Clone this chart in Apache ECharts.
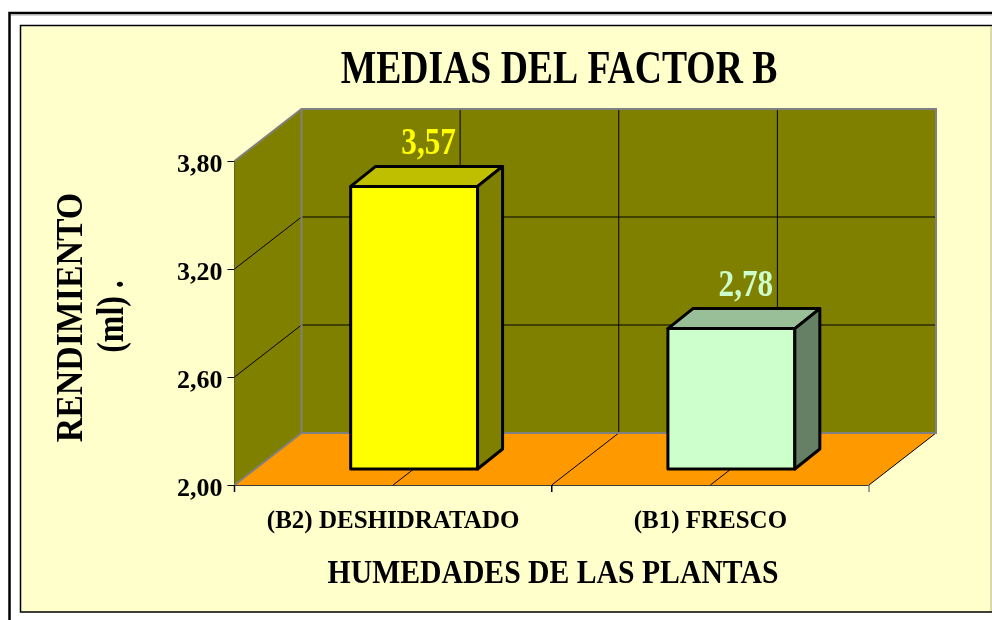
<!DOCTYPE html>
<html><head><meta charset="utf-8">
<style>html,body{margin:0;padding:0;background:#fff}#c{width:992px;height:620px}</style>
<script src="https://cdn.jsdelivr.net/npm/echarts@6/dist/echarts.min.js"></script>
</head><body><div id="c"></div>
<script>
const categories = ['(B2) DESHIDRATADO', '(B1) FRESCO'];
const values = [3.57, 2.78];
const valueLabels = ['3,57', '2,78'];
const yTicks = [2.0, 2.6, 3.2, 3.8];
const faceColors = ['#FFFF00', '#CCFFCC'];
const topColors = ['#BFBF00', '#99BF99'];
const sideColors = ['#808000', '#668066'];
const labelColors = ['#FFFF00', '#CCFFCC'];
const chartTitle = 'MEDIAS DEL FACTOR B';
const xTitle = 'HUMEDADES DE LAS PLANTAS';
const yTitleLines = ['RENDIMIENTO', '(ml) .'];

const FONT = '"Liberation Serif","Times New Roman",serif';
const DX = 67, DY = -52;           // full depth of the box
const FX = 21, FY = -16;           // gap from front plane to bar
const BX = 25, BY = -20;           // bar depth

function poly(points, fill, stroke, lw) {
  return {type:'polygon', shape:{points}, style:{fill, stroke:stroke||'none', lineWidth:lw||0, lineJoin:'round'}};
}
function line(x1,y1,x2,y2,stroke,lw){
  return {type:'line', shape:{x1,y1,x2,y2}, style:{stroke, lineWidth:lw||1}};
}
function label(text,x,y,size,scaleX,rotation){
  return {type:'text', z:5, silent:true, x, y, scaleX, rotation:rotation||0,
    style:{text, fill:'#000', font:'bold '+size+'px '+FONT, textAlign:'center', textVerticalAlign:'middle'}};
}
function renderBox(params, api) {
  const cs = params.coordSys;
  const L = cs.x, R = cs.x + cs.width, T = cs.y, B = cs.y + cs.height;
  const ch = [];
  ch.push(poly([[L,B],[L+DX,B+DY],[L+DX,T+DY],[L,T]], '#808000'));
  ch.push(poly([[L+DX,B+DY],[R+DX,B+DY],[R+DX,T+DY],[L+DX,T+DY]], '#808000'));
  ch.push(poly([[L,B],[R,B],[R+DX,B+DY],[L+DX,B+DY]], '#FF9900'));
  yTicks.slice(1,-1).forEach(v => {
    const y = api.coord([0, v])[1];
    ch.push(line(L,y,L+DX,y+DY,'#000'));
    ch.push(line(L+DX,y+DY,R+DX,y+DY,'#000'));
  });
  const band = cs.width / categories.length;
  for (let i = 1; i < categories.length * 2; i++) {
    const x = L + band * i / 2;
    ch.push(line(x,B,x+DX,B+DY,'#000'));
    ch.push(line(x+DX,B+DY,x+DX,T+DY,'#000'));
  }
  ch.push(line(R,B,R+DX,B+DY,'#000'));
  ch.push({type:'polyline', shape:{points:[[L,B],[L+DX,B+DY],[R+DX,B+DY],[R+DX,T+DY],[L+DX,T+DY],[L,T]]}, style:{fill:'none',stroke:'#808080',lineWidth:2}});
  ch.push(line(L+DX,B+DY,L+DX,T+DY,'#808080',2));
  // category-axis ticks at band boundaries
  for (let i = 0; i <= categories.length; i++) {
    const x = L + band * i;
    ch.push(line(x,B,x,B+7,i===categories.length?'#808080':'#000',1.5));
  }
  return {type:'group', children:ch};
}
function renderBar(params, api) {
  const i = api.value(0), v = api.value(1);
  const p = api.coord([i, v]), p0 = api.coord([i, yTicks[0]]);
  const w = api.size([1, 0])[0] * 0.4;
  const l = p[0] - w/2 + FX, r = p[0] + w/2 + FX;
  const t = p[1] + FY, b = p0[1] + FY;
  const st = 3;
  return {type:'group', children:[
    poly([[l,b],[r,b],[r,t],[l,t]], faceColors[i], '#000', st),
    poly([[l,t],[r,t],[r+BX,t+BY],[l+BX,t+BY]], topColors[i], '#000', st),
    poly([[r,b],[r+BX,b+BY],[r+BX,t+BY],[r,t]], sideColors[i], '#000', st),
    {type:'text', x:(l+r)/2+BX/2+2, y:t+BY-22, scaleX:0.82, style:{text:valueLabels[i], fill:labelColors[i], font:'bold 38px '+FONT, textAlign:'center', textVerticalAlign:'middle'}}
  ]};
}
const chart = echarts.init(document.getElementById('c'), null, {renderer:'canvas'});
chart.setOption({
  animation:false,
  backgroundColor:'#fff',
  graphic:{elements:[
    {type:'rect', z:-10, silent:true, shape:{x:9.5,y:13,width:990,height:620}, style:{fill:'#fff',stroke:'#000',lineWidth:2.5}},
    {type:'line', z:-10, silent:true, shape:{x1:11,y1:14.8,x2:992,y2:14.8}, style:{stroke:'#A8A8A8',lineWidth:1.2}},
    {type:'rect', z:-9, silent:true, shape:{x:20.5,y:25.5,width:974,height:586.5}, style:{fill:'#FFFFCC',stroke:'#000',lineWidth:1.5}},
    {type:'line', z:-8, silent:true, shape:{x1:991,y1:26,x2:991,y2:611}, style:{stroke:'#B4B48C',lineWidth:1}},
    label(chartTitle, 559, 71, 46, 0.818),
    label(xTitle, 553, 574, 33, 0.9),
    label(yTitleLines[0], 72, 317.5, 38, 0.89, Math.PI/2),
    label(yTitleLines[1], 113, 316.5, 38, 0.84, Math.PI/2)
  ]},
  grid:{left:234.5, right:123, top:161, bottom:135, containLabel:false},
  xAxis:{type:'category', data:categories, position:'bottom',
    axisLine:{show:true,lineStyle:{color:'#000',width:1.5}},
    axisTick:{show:false},
    axisLabel:{interval:0,fontFamily:FONT,fontWeight:'bold',fontSize:25,color:'#000',margin:24}, splitLine:{show:false}},
  yAxis:{type:'value', min:2, max:3.8, interval:0.6,
    axisLine:{show:true,lineStyle:{color:'#404040',width:2}}, axisTick:{show:true,length:7,lineStyle:{color:'#000'}},
    axisLabel:{margin:12,formatter:v=>'{t|'+v.toFixed(2).replace('.',',')+'}',
      rich:{t:{fontFamily:FONT,fontWeight:'bold',fontSize:26,color:'#000',padding:[8,0,0,0]}}}, splitLine:{show:false}},
  series:[
    {type:'custom', data:[[0,2]], renderItem:renderBox, encode:{x:0,y:1}, z:1, silent:true, clip:false},
    {type:'custom', data:values.map((v,i)=>[i,v]), renderItem:renderBar, encode:{x:0,y:1}, z:3, silent:true, clip:false}
  ]
});
</script></body></html>
